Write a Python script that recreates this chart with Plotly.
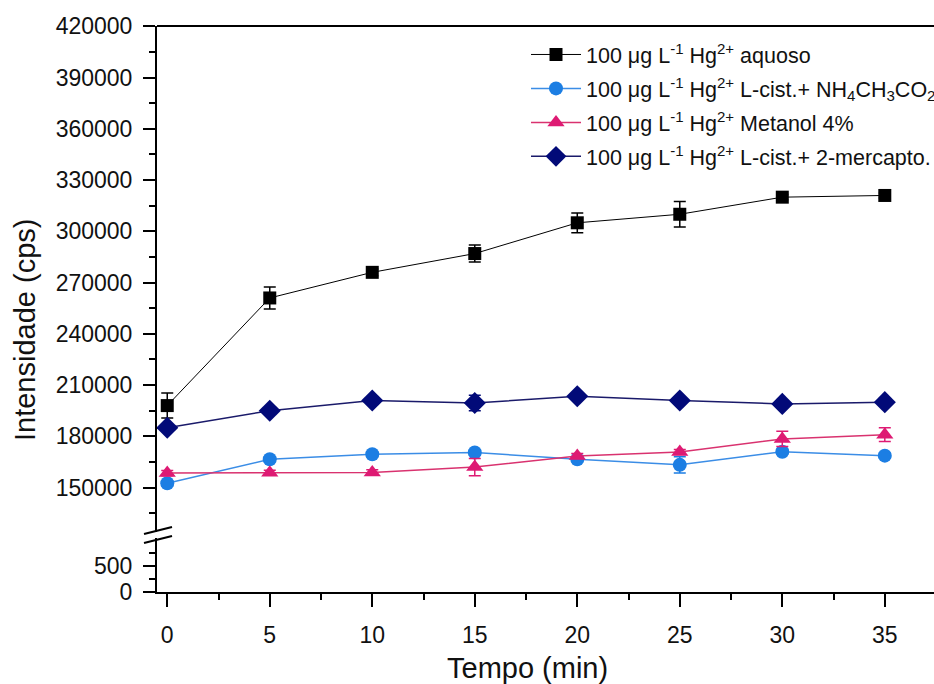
import plotly.graph_objects as go

# ---- data ----
tempo = [0, 5, 10, 15, 20, 25, 30, 35]

aquoso = [198000, 261000, 276000, 287000, 305000, 310000, 320000, 321000]
aquoso_err = [7300, 6400, 2000, 5000, 5800, 7500, 1500, 1500]

cist_nh4 = [152500, 166600, 169500, 170500, 166600, 163300, 171000, 168700]
cist_nh4_err = [1500, 1500, 1500, 1500, 1500, 4700, 1500, 1500]

metanol = [158500, 158700, 158900, 162000, 168500, 170800, 178500, 181000]
metanol_err = [1500, 1500, 1500, 5000, 1500, 1500, 4500, 4000]

cist_merc = [185000, 195000, 201000, 199500, 203500, 201000, 199000, 200000]
cist_merc_err = [1500, 1500, 1500, 4500, 1500, 1500, 1500, 1500]

names = [
    "100 μg L<sup>-1</sup> Hg<sup>2+</sup> aquoso",
    "100 μg L<sup>-1</sup> Hg<sup>2+</sup> L-cist.+ NH<sub>4</sub>CH<sub>3</sub>CO<sub>2</sub>",
    "100 μg L<sup>-1</sup> Hg<sup>2+</sup> Metanol 4%",
    "100 μg L<sup>-1</sup> Hg<sup>2+</sup> L-cist.+ 2-mercapto.",
]

upper_ticks = [150000, 180000, 210000, 240000, 270000, 300000, 330000, 360000, 390000, 420000]
upper_minor = [135000, 165000, 195000, 225000, 255000, 285000, 315000, 345000, 375000, 405000]
lower_ticks = [0, 500]
lower_minor = [250, 750]
x_minor = [2.5, 7.5, 12.5, 17.5, 22.5, 27.5, 32.5, 37.5]

FONT = "Liberation Sans, Arial, sans-serif"

# ---- layout geometry (pixels) ----
W, H = 934, 684
L, T, R, B = 157, 26, 0, 92
pw, ph = W - L - R, H - T - B
def px_x(px):
    return (px - L) / pw
def px_y(py):
    return (H - B - py) / ph

fig = go.Figure()

series = [
    (aquoso, aquoso_err, names[0], "square", "#000000", "#000000", 1.0, 13),
    (cist_nh4, cist_nh4_err, names[1], "circle", "#1C7EE3", "#3B8DE6", 1.5, 14),
    (metanol, metanol_err, names[2], "triangle-up", "#DE1A73", "#D9326F", 1.5, 15),
    (cist_merc, cist_merc_err, names[3], "diamond", "#020A78", "#1A1A6A", 1.5, 17),
]

for i, (vals, errs, nm, sym, mc, lc, lw, ms) in enumerate(series):
    fig.add_trace(go.Scatter(
        x=tempo, y=vals, name=nm, mode="lines+markers",
        xaxis="x", yaxis="y2", legendgroup="g%d" % i,
        line=dict(color=lc, width=lw),
        marker=dict(symbol=sym, color=mc, size=ms, line=dict(width=0)),
        error_y=dict(type="data", array=errs, visible=True, color=mc,
                     thickness=1.5, width=6),
    ))

# dummy trace for the lower subplot
fig.add_trace(go.Scatter(x=[], y=[], xaxis="x", yaxis="y", showlegend=False))

lower_top = px_y(538)
upper_bot = px_y(532)

tick_common = dict(ticks="outside", tickwidth=2, tickcolor="black",
                   showline=True, linecolor="black", linewidth=2,
                   showgrid=False, zeroline=False,
                   tickfont=dict(size=23, family=FONT, color="#111111"))

fig.update_layout(
    width=W, height=H,
    margin=dict(l=L, r=R, t=T, b=B, autoexpand=False),
    paper_bgcolor="white", plot_bgcolor="white",
    font=dict(family=FONT, size=22, color="#111111"),
    xaxis=dict(
        domain=[0, 1], anchor="y", range=[-0.5, 37.4],
        tickmode="array", tickvals=tempo, ticklen=13, ticklabelstandoff=8,
        minor=dict(tickmode="array", tickvals=x_minor,
                   ticks="outside", ticklen=6, tickwidth=2, tickcolor="black"),
        **tick_common,
    ),
    yaxis=dict(
        domain=[0, lower_top], anchor="x", range=[0, 1040],
        tickmode="array", tickvals=lower_ticks, ticklen=12, ticklabelstandoff=6,
        tickformat="d",
        minor=dict(tickmode="array", tickvals=lower_minor,
                   ticks="outside", ticklen=6, tickwidth=2, tickcolor="black"),
        **tick_common,
    ),
    yaxis2=dict(
        domain=[upper_bot, 1], anchor="x", range=[124000, 420200],
        tickmode="array", tickvals=upper_ticks, ticklen=12, ticklabelstandoff=6,
        tickformat="d",
        minor=dict(tickmode="array", tickvals=upper_minor,
                   ticks="outside", ticklen=6, tickwidth=2, tickcolor="black"),
        **tick_common,
    ),
    legend=dict(
        x=px_x(526), y=px_y(34), xanchor="left", yanchor="top",
        font=dict(size=21.5, family=FONT, color="#111111"),
        bgcolor="rgba(0,0,0,0)", borderwidth=0,
        itemwidth=50, tracegroupgap=3, traceorder="grouped",
    ),
    showlegend=True,
)

# top frame line
fig.add_shape(type="line", xref="paper", yref="paper",
              x0=0, x1=1, y0=1, y1=1, line=dict(color="black", width=2))
# axis-break marks
for y_left, y_right in [(534, 527), (543, 536)]:
    fig.add_shape(type="line", xref="paper", yref="paper",
                  x0=px_x(144), x1=px_x(172), y0=px_y(y_left), y1=px_y(y_right),
                  line=dict(color="black", width=2))

# axis titles
fig.add_annotation(text="Intensidade (cps)", xref="paper", yref="paper",
                   x=px_x(25), y=px_y(330), textangle=-90, showarrow=False,
                   xanchor="center", yanchor="middle",
                   font=dict(size=29, family=FONT, color="#111111"))
fig.add_annotation(text="Tempo (min)", xref="paper", yref="paper",
                   x=px_x(527), y=px_y(668), showarrow=False,
                   xanchor="center", yanchor="middle",
                   font=dict(size=29, family=FONT, color="#111111"))

fig.write_html("out.html",
               config={"displayModeBar": False},
               post_script="document.body.style.margin='0';document.body.style.overflow='hidden';")
